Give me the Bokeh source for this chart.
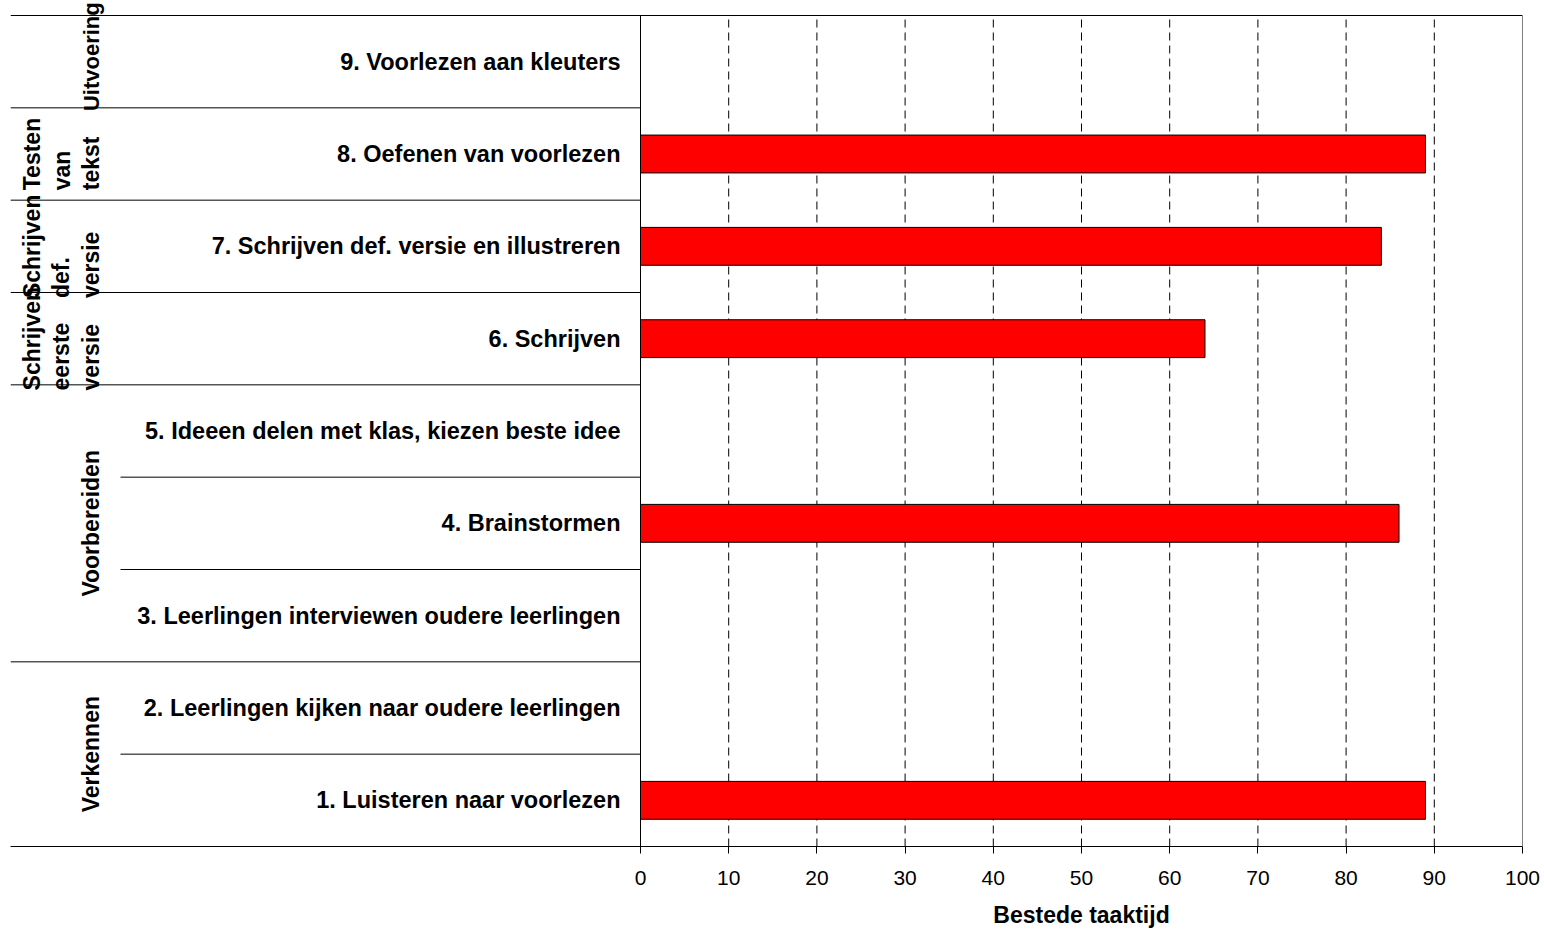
import numpy as np
from bokeh.plotting import figure
from bokeh.models import Range1d, FixedTicker, ColumnDataSource, LabelSet, LinearAxis
from bokeh.core.properties import value
from bokeh.embed import file_html
from bokeh.resources import INLINE

# ---- data ----
categories = [
    "1. Luisteren naar voorlezen",
    "2. Leerlingen kijken naar oudere leerlingen",
    "3. Leerlingen interviewen oudere leerlingen",
    "4. Brainstormen",
    "5. Ideeen delen met klas, kiezen beste idee",
    "6. Schrijven",
    "7. Schrijven def. versie en illustreren",
    "8. Oefenen van voorlezen",
    "9. Voorlezen aan kleuters",
]
values = [89, 0, 0, 86, 0, 64, 84, 89, 0]
groups = ["Verkennen", "Voorbereiden", "Schrijven\neerste\nversie",
          "Schrijven\ndef.\nversie", "Testen\nvan\ntekst", "Uitvoering"]
group_sizes = [2, 3, 1, 1, 1, 1]
x_ticks = [0, 10, 20, 30, 40, 50, 60, 70, 80, 90, 100]
x_title = "Bestede taaktijd"

# ---- layout ----
FONT = "Liberation Sans"
frame_w, plot_h = 1512, 831
extra_top = 14
left_px = 630
x_max = x_ticks[-1]
px_per_unit = (frame_w - left_px) / x_max
x_min = -left_px / px_per_unit
n = len(categories)
band_px = plot_h / n
W, H = 1542, 934
top_border = 15 - extra_top

p = figure(width=W, height=H,
           x_range=Range1d(x_min, x_max), y_range=Range1d(0, n + extra_top / band_px),
           output_backend="svg", toolbar_location=None, y_axis_location=None,
           min_border_left=10, min_border_right=W - 10 - frame_w, min_border_top=top_border,
           min_border_bottom=H - top_border - plot_h - extra_top)
p.outline_line_color = None
p.background_fill_color = "white"
p.border_fill_color = "white"

p.xaxis.ticker = FixedTicker(ticks=x_ticks)
p.xaxis.minor_tick_line_color = None
p.xaxis.major_tick_in = 0
p.xaxis.major_tick_out = 7
p.xaxis.major_tick_line_color = "black"
p.xaxis.axis_line_color = "black"
p.xaxis.major_label_text_font = FONT
p.xaxis.major_label_text_font_size = "21px"
p.xaxis.major_label_text_color = "black"
p.xaxis.major_label_standoff = 17
p.xgrid.visible = False
p.ygrid.visible = False

# axis title: centred under the value range (second, line-less axis)
mid = (x_ticks[0] + x_ticks[-1]) / 2
title_axis = LinearAxis(ticker=FixedTicker(ticks=[mid]),
                        major_label_overrides={mid: x_title},
                        axis_line_color=None, major_tick_line_color=None,
                        minor_tick_line_color=None, major_tick_out=0, major_tick_in=0,
                        major_label_standoff=14,
                        major_label_text_font=FONT, major_label_text_font_style="bold",
                        major_label_text_font_size="23px", major_label_text_color="black")
p.add_layout(title_axis, "below")

# dashed value grid
grid_x = x_ticks[1:-1]
p.segment(x0=grid_x, y0=[0] * len(grid_x), x1=grid_x, y1=[n] * len(grid_x),
          line_color="black", line_width=1, line_dash="8 5")

# bars
src = ColumnDataSource(dict(y=[i + 0.5 for i in range(n)], right=values, label=categories))
p.hbar(y="y", left=0, right="right", height=0.41, fill_color="#FF0000",
       line_color="black", line_width=1, source=src)

# frame lines: value axis line, right border, top border
p.segment(x0=[x_ticks[0], x_max], y0=[0, 0], x1=[x_ticks[0], x_max], y1=[n, n],
          line_color="black", line_width=1)
p.segment(x0=[x_min], y0=[n], x1=[x_max], y1=[n], line_color="black", line_width=1)

# separators
bounds = np.cumsum(group_sizes)
starts = np.concatenate([[0], bounds[:-1]])
sep_y, sep_x0 = [], []
for b in bounds[:-1]:
    sep_y.append(float(b)); sep_x0.append(x_min)
inner_x0 = x_min + 110 / px_per_unit
for s, sz in zip(starts, group_sizes):
    for k in range(1, sz):
        sep_y.append(float(s + k)); sep_x0.append(inner_x0)
p.segment(x0=sep_x0, y0=sep_y, x1=[0] * len(sep_y), y1=sep_y, line_color="black", line_width=1)

# category labels
p.add_layout(LabelSet(x=0, y="y", text="label", source=src, x_offset=-20,
                      text_align="right", text_baseline="middle",
                      text_font=value(FONT), text_font_style="bold",
                      text_font_size="23.5px", text_color="black"))

# group labels
g_y = [float(s) + sz / 2 for s, sz in zip(starts, group_sizes)]
g_y[-1] += 5 / band_px  # top label sits slightly high in the reference
g_x = [x_min + (51 if "\n" in g else 81) / px_per_unit for g in groups]
g_fs = ["23px"] * (len(groups) - 1) + ["22px"]
gsrc = ColumnDataSource(dict(x=g_x, y=g_y, text=groups, fs=g_fs))
p.add_layout(LabelSet(x="x", y="y", text="text", source=gsrc, angle=np.pi / 2,
                      text_align="center", text_baseline="middle",
                      text_font=value(FONT), text_font_style="bold",
                      text_font_size="fs", text_color="black",
                      text_line_height=1.12))

open("out.html", "w").write(file_html(p, INLINE))
